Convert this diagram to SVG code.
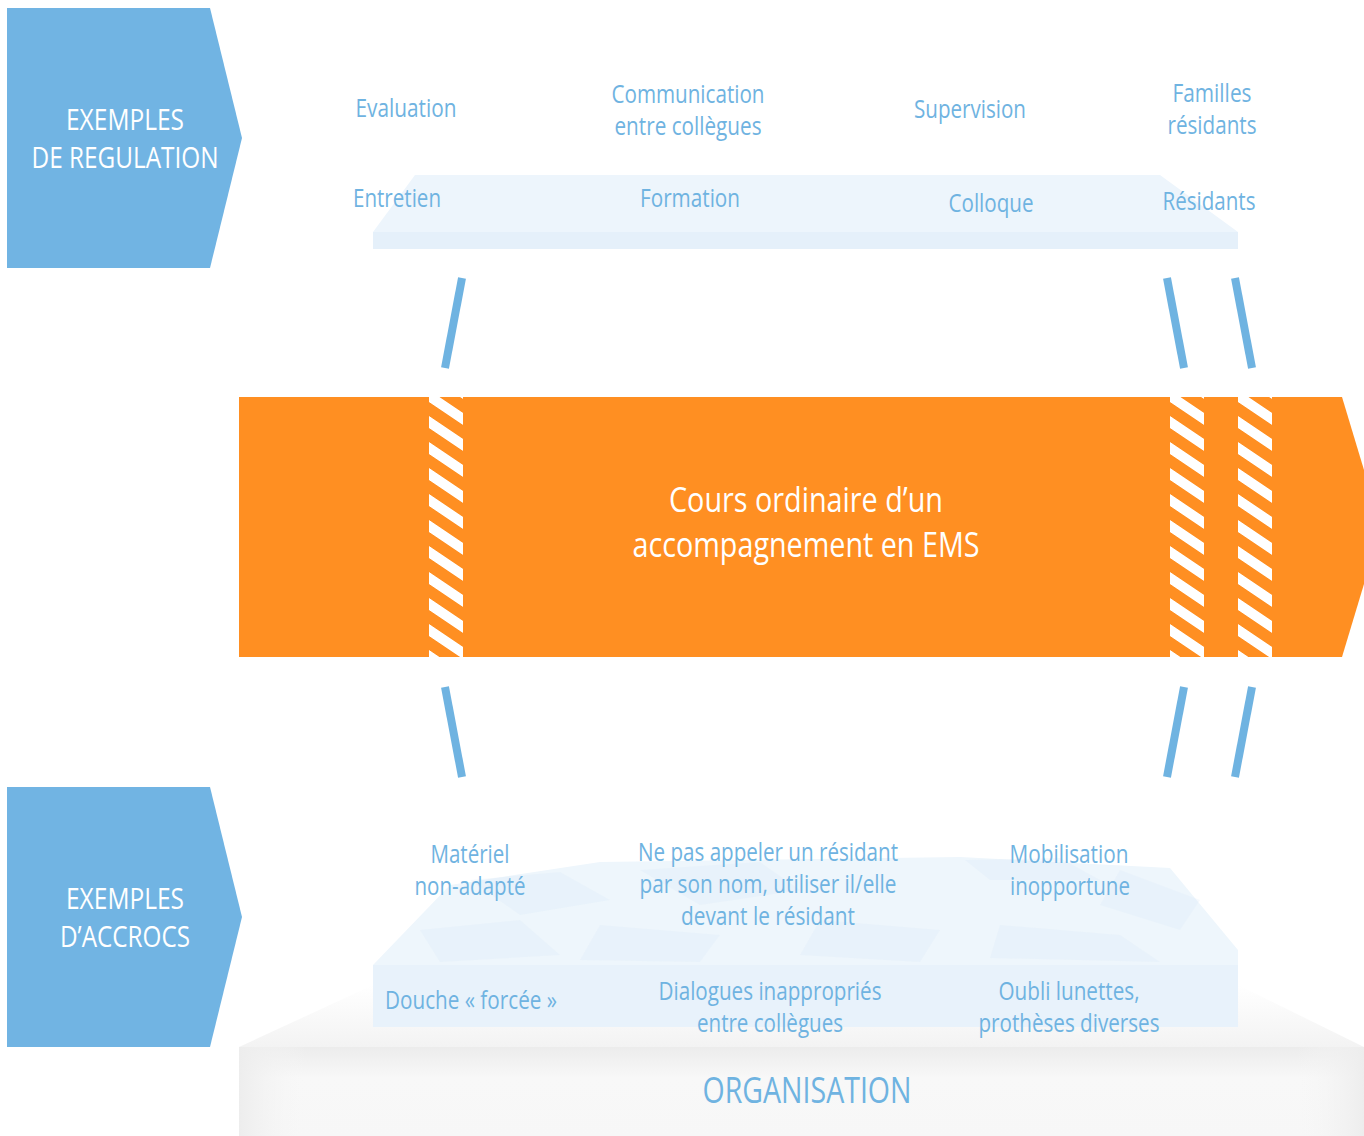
<svg xmlns="http://www.w3.org/2000/svg" width="1364" height="1136" viewBox="0 0 1364 1136">
<defs>
<style>
.lbl{font-family:"Open Sans","Liberation Sans",sans-serif;font-size:25px;fill:#6FB3E1;text-anchor:middle;}
.hdr{font-family:"Open Sans","Liberation Sans",sans-serif;font-size:30px;fill:#FFFFFF;text-anchor:middle;}
.main{font-family:"Open Sans","Liberation Sans",sans-serif;font-size:34px;fill:#FFFFFF;text-anchor:middle;}
.org{font-family:"Open Sans","Liberation Sans",sans-serif;font-size:37px;fill:#6FB3E1;text-anchor:middle;}
.chev{fill:#71B4E3;}
.link{stroke:#6FB3E1;stroke-width:8;fill:none;}
.crumple{fill:#DCEBF7;opacity:0.28;}
</style>
<pattern id="stripes" patternUnits="userSpaceOnUse" width="34" height="26" patternTransform="skewY(34)">
<rect x="0" y="0" width="34" height="26" fill="#FF8F22"/>
<rect x="0" y="0" width="34" height="12" fill="#FFFFFF"/>
</pattern>
<linearGradient id="orgV" x1="0" y1="0" x2="0" y2="1">
<stop offset="0" stop-color="#ECECEC"/>
<stop offset="0.35" stop-color="#F8F8F8"/>
<stop offset="1" stop-color="#F7F7F7"/>
</linearGradient>
<linearGradient id="orgH" x1="0" y1="0" x2="1" y2="0">
<stop offset="0" stop-color="#EDEDED" stop-opacity="1"/>
<stop offset="0.06" stop-color="#F7F7F7" stop-opacity="0"/>
<stop offset="0.94" stop-color="#F7F7F7" stop-opacity="0"/>
<stop offset="1" stop-color="#EDEDED" stop-opacity="1"/>
</linearGradient>
<linearGradient id="shadowTop" x1="0" y1="0" x2="0" y2="1">
<stop offset="0" stop-color="#FFFFFF"/>
<stop offset="1" stop-color="#F3F3F3"/>
</linearGradient>
</defs>
<rect width="1364" height="1136" fill="#FFFFFF"/>

<g id="regulation-header">
<polygon class="chev" points="7,8 210,8 242,138 210,268 7,268"/>
<text class="hdr" x="125" y="130" textLength="118" lengthAdjust="spacingAndGlyphs">EXEMPLES</text>
<text class="hdr" x="125" y="168" textLength="187" lengthAdjust="spacingAndGlyphs">DE REGULATION</text>
</g>

<g id="regulation-platform">
<polygon points="373,232 415,175 1160,175 1238,232" fill="#EDF5FC"/>
<rect x="373" y="232" width="865" height="17" fill="#E5F0FA"/>
</g>

<g id="regulation-labels">
<text class="lbl" x="406" y="117" textLength="101" lengthAdjust="spacingAndGlyphs">Evaluation</text>
<text class="lbl" x="688" y="103" textLength="153" lengthAdjust="spacingAndGlyphs">Communication</text>
<text class="lbl" x="688" y="135" textLength="147" lengthAdjust="spacingAndGlyphs">entre collègues</text>
<text class="lbl" x="970" y="118" textLength="112" lengthAdjust="spacingAndGlyphs">Supervision</text>
<text class="lbl" x="1212" y="102" textLength="79" lengthAdjust="spacingAndGlyphs">Familles</text>
<text class="lbl" x="1212" y="134" textLength="89" lengthAdjust="spacingAndGlyphs">résidants</text>
<text class="lbl" x="397" y="207" textLength="88" lengthAdjust="spacingAndGlyphs">Entretien</text>
<text class="lbl" x="690" y="207" textLength="100" lengthAdjust="spacingAndGlyphs">Formation</text>
<text class="lbl" x="991" y="212" textLength="85" lengthAdjust="spacingAndGlyphs">Colloque</text>
<text class="lbl" x="1209" y="210" textLength="93" lengthAdjust="spacingAndGlyphs">Résidants</text>
</g>

<g id="course">
<polygon points="239,397 1342,397 1364,470 1364,584 1342,657 239,657" fill="#FF8F22"/>
<rect x="0" y="397" width="34" height="260" fill="url(#stripes)" transform="translate(429 0)"/>
<rect x="0" y="397" width="34" height="260" fill="url(#stripes)" transform="translate(1170 0)"/>
<rect x="0" y="397" width="34" height="260" fill="url(#stripes)" transform="translate(1238 0)"/>
<text class="main" x="806" y="512" textLength="274" lengthAdjust="spacingAndGlyphs">Cours ordinaire d’un</text>
<text class="main" x="806" y="557" textLength="347" lengthAdjust="spacingAndGlyphs">accompagnement en EMS</text>
</g>

<g id="connectors">
<line class="link" x1="462" y1="278" x2="445" y2="368"/>
<line class="link" x1="1167" y1="278" x2="1184" y2="368"/>
<line class="link" x1="1235" y1="278" x2="1252" y2="368"/>
<line class="link" x1="445" y1="687" x2="462" y2="777"/>
<line class="link" x1="1184" y1="687" x2="1167" y2="777"/>
<line class="link" x1="1252" y1="687" x2="1235" y2="777"/>
</g>

<g id="organisation">
<polygon points="239,1047 373,985 1238,985 1364,1047" fill="url(#shadowTop)"/>
<rect x="239" y="1047" width="1125" height="89" fill="url(#orgV)"/>
<rect x="239" y="1047" width="1125" height="89" fill="url(#orgH)"/>
<text class="org" x="807" y="1103" textLength="209" lengthAdjust="spacingAndGlyphs">ORGANISATION</text>
</g>

<g id="accrocs-header">
<polygon class="chev" points="7,787 210,787 242,917 210,1047 7,1047"/>
<text class="hdr" x="125" y="909" textLength="118" lengthAdjust="spacingAndGlyphs">EXEMPLES</text>
<text class="hdr" x="125" y="947" textLength="130" lengthAdjust="spacingAndGlyphs">D’ACCROCS</text>
</g>

<g id="accrocs-platform">
<polygon points="373,965 450,885 600,862 960,857 1170,868 1238,950 1238,965" fill="#EEF6FC"/>
<polygon class="crumple" points="470,880 560,872 610,900 520,915"/>
<polygon class="crumple" points="640,870 760,862 800,890 700,905"/>
<polygon class="crumple" points="965,860 1060,858 1100,880 990,880"/>
<polygon class="crumple" points="1120,870 1200,900 1180,930 1100,905"/>
<polygon class="crumple" points="420,930 520,920 560,955 440,962"/>
<polygon class="crumple" points="600,925 720,935 700,962 580,960"/>
<polygon class="crumple" points="820,920 940,930 920,962 800,955"/>
<polygon class="crumple" points="1000,925 1120,935 1160,962 990,958"/>
<rect x="373" y="965" width="865" height="62" fill="#E8F2FB"/>
</g>

<g id="accrocs-labels">
<text class="lbl" x="470" y="863" textLength="79" lengthAdjust="spacingAndGlyphs">Matériel</text>
<text class="lbl" x="470" y="895" textLength="111" lengthAdjust="spacingAndGlyphs">non-adapté</text>
<text class="lbl" x="768" y="861" textLength="260" lengthAdjust="spacingAndGlyphs">Ne pas appeler un résidant</text>
<text class="lbl" x="768" y="893" textLength="257" lengthAdjust="spacingAndGlyphs">par son nom, utiliser il/elle</text>
<text class="lbl" x="768" y="925" textLength="174" lengthAdjust="spacingAndGlyphs">devant le résidant</text>
<text class="lbl" x="1069" y="863" textLength="119" lengthAdjust="spacingAndGlyphs">Mobilisation</text>
<text class="lbl" x="1070" y="895" textLength="120" lengthAdjust="spacingAndGlyphs">inopportune</text>
<text class="lbl" x="471" y="1009" textLength="172" lengthAdjust="spacingAndGlyphs">Douche « forcée »</text>
<text class="lbl" x="770" y="1000" textLength="223" lengthAdjust="spacingAndGlyphs">Dialogues inappropriés</text>
<text class="lbl" x="770" y="1032" textLength="146" lengthAdjust="spacingAndGlyphs">entre collègues</text>
<text class="lbl" x="1069" y="1000" textLength="141" lengthAdjust="spacingAndGlyphs">Oubli lunettes,</text>
<text class="lbl" x="1069" y="1032" textLength="181" lengthAdjust="spacingAndGlyphs">prothèses diverses</text>
</g>
</svg>
